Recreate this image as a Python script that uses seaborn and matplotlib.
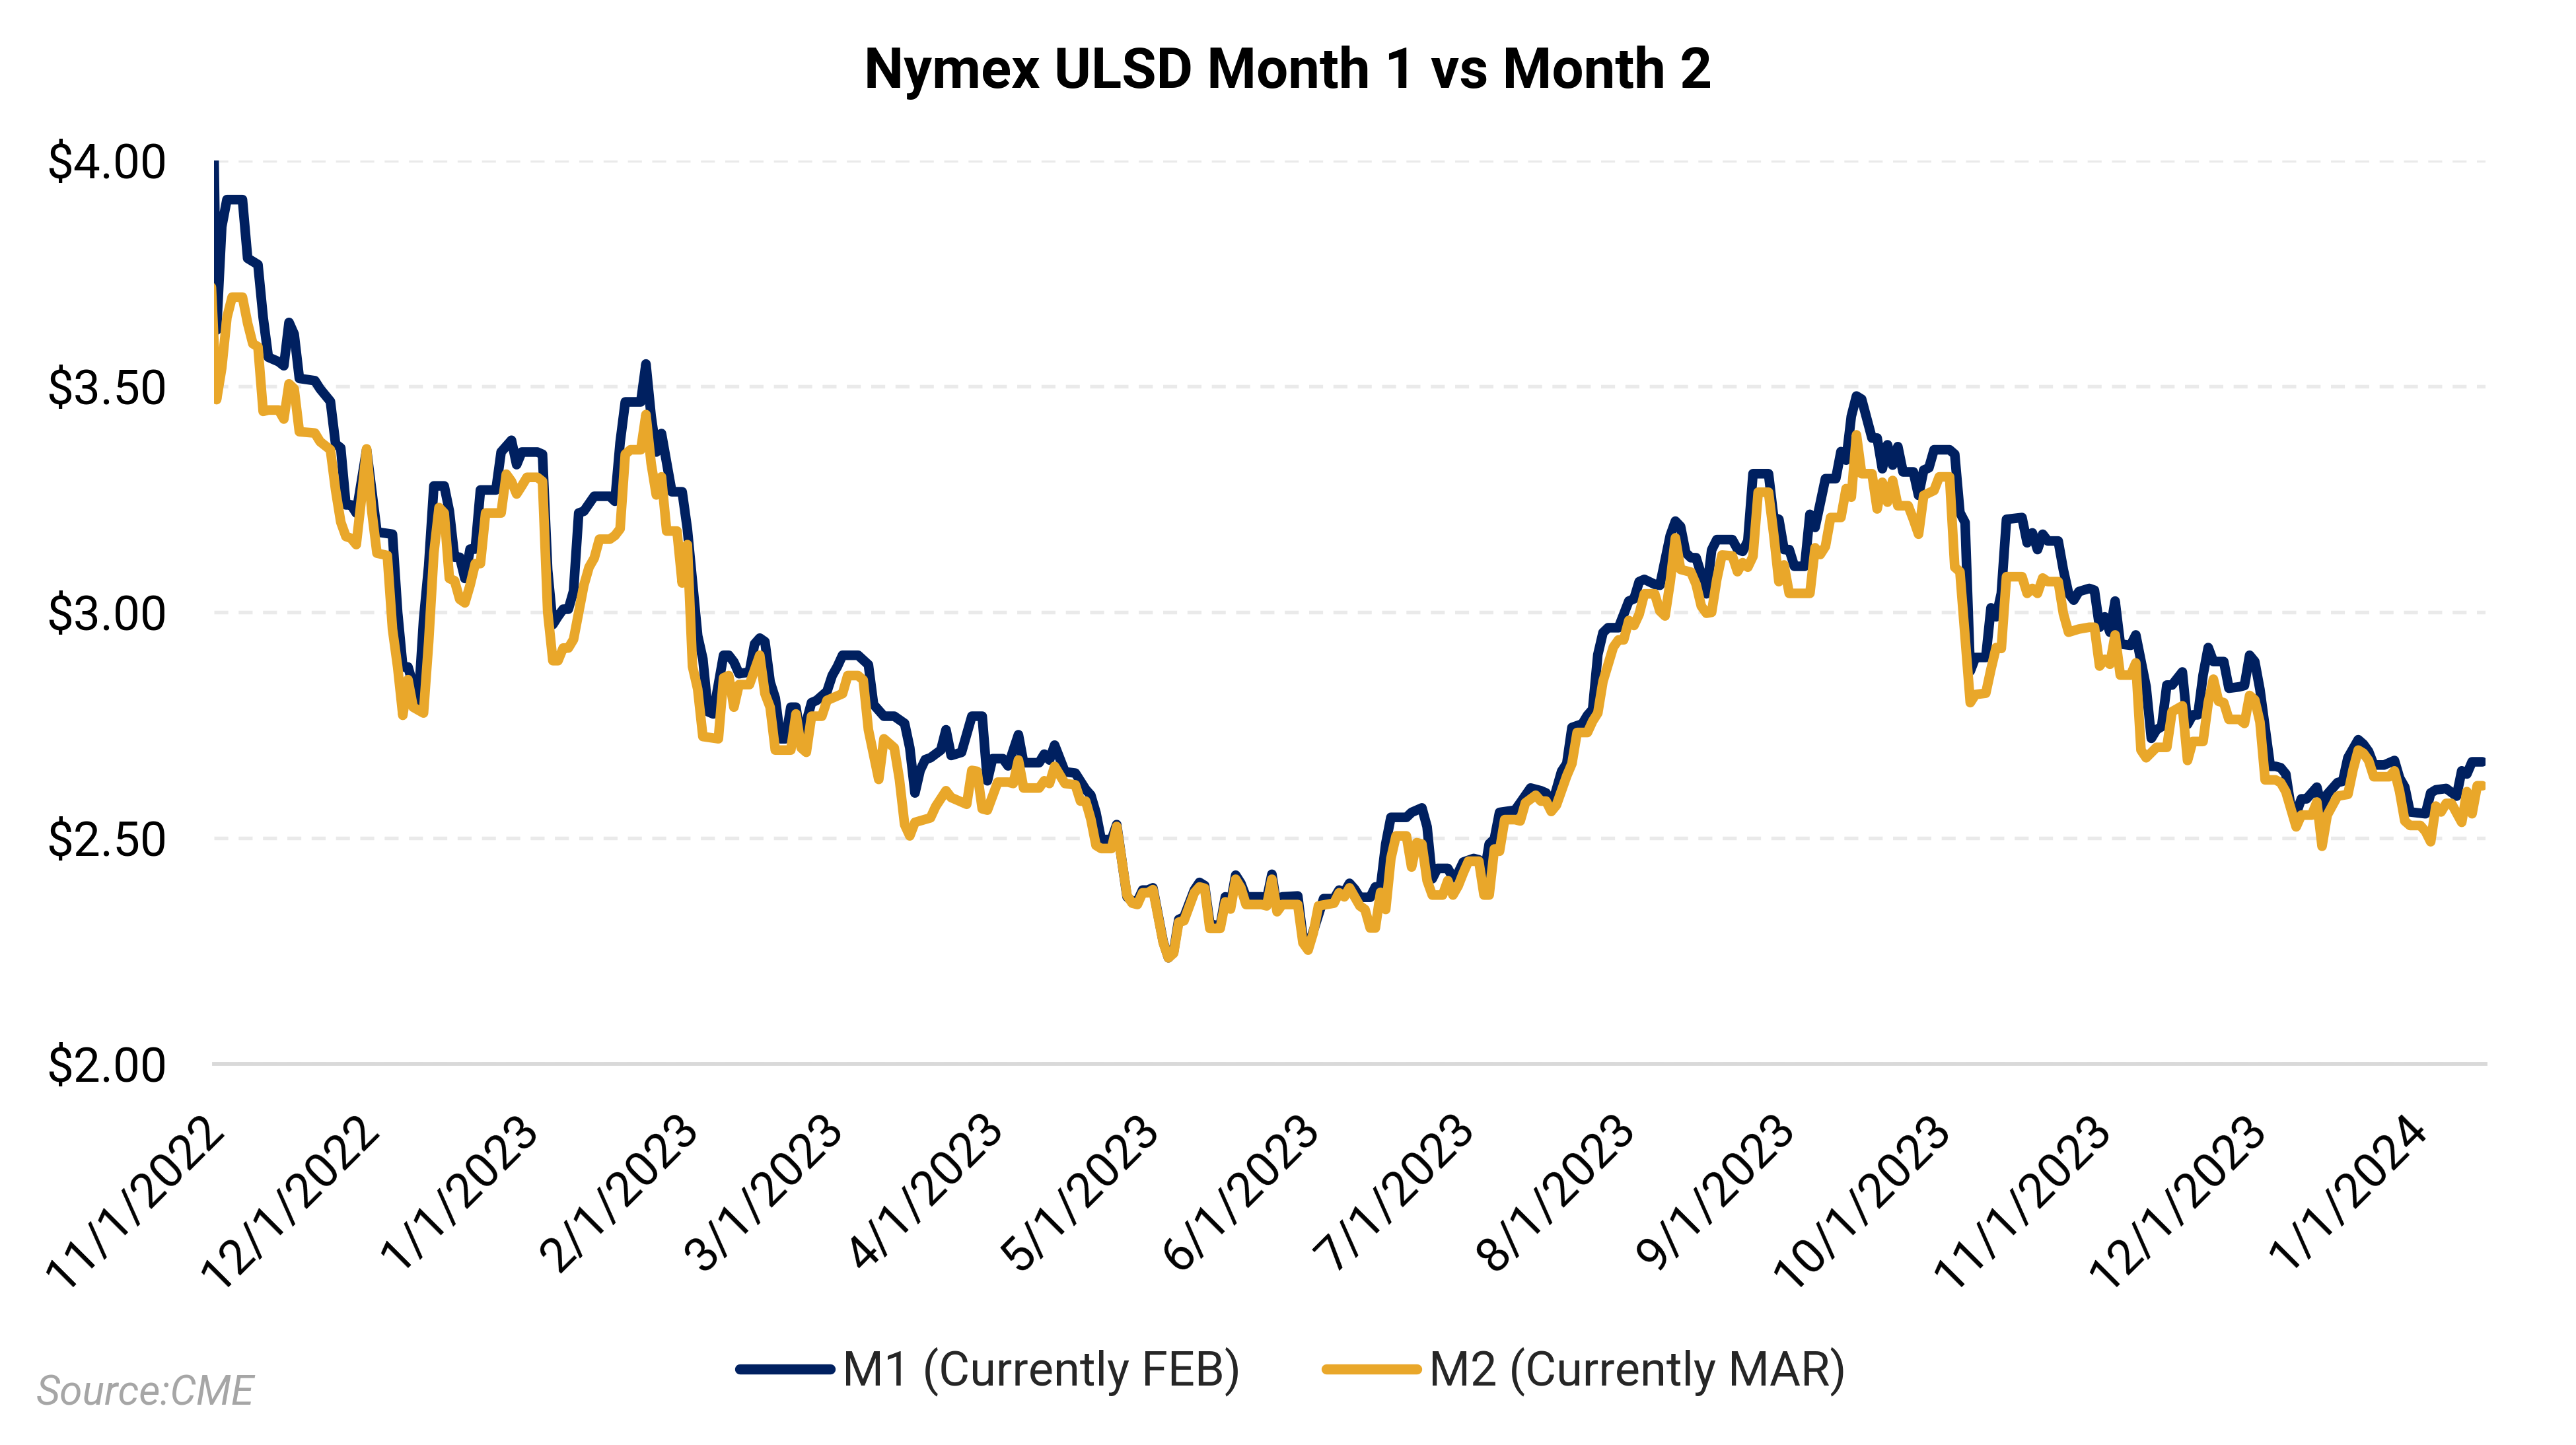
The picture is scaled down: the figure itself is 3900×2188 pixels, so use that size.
import matplotlib
matplotlib.use("Agg")
import matplotlib.pyplot as plt
import pandas as pd
import seaborn as sns
from matplotlib.lines import Line2D

# ---------------- data ----------------
start_date = "2022-11-01"

# day offsets from start_date and settle prices, M1 (front month)
m1_days = [-1, 0, 1, 2, 5, 6, 8, 9, 10, 12, 13, 14, 15, 16, 19, 20, 22, 23, 24, 25,
           26, 27, 29, 31, 34, 35, 36, 37, 39, 40, 41, 42, 44, 45, 46, 47, 48, 49, 50, 51,
           54, 55, 57, 58, 59, 62, 63, 64, 65, 66, 67, 68, 69, 70, 71, 73, 76, 77, 78, 79,
           82, 83, 84, 85, 86, 88, 90, 91, 93, 94, 95, 96, 98, 99, 100, 101, 103, 104, 105, 106,
           107, 108, 109, 110, 111, 112, 113, 115, 116, 118, 119, 120, 121, 124, 126, 127, 129, 131, 133, 134,
           135, 136, 137, 138, 140, 141, 142, 144, 146, 148, 149, 150, 152, 153, 155, 156, 159, 160, 161, 162,
           164, 166, 168, 169, 170, 171, 173, 174, 176, 177, 178, 179, 180, 181, 183, 184, 185, 186, 187, 189,
           190, 191, 192, 194, 195, 196, 197, 198, 199, 202, 203, 204, 205, 206, 209, 210, 211, 213, 214, 216,
           217, 218, 219, 220, 221, 223, 224, 225, 226, 227, 230, 231, 233, 234, 235, 236, 238, 239, 240, 241,
           243, 244, 245, 246, 247, 248, 251, 252, 254, 256, 257, 258, 260, 261, 262, 264, 265, 266, 267, 268,
           269, 271, 273, 274, 275, 276, 278, 279, 281, 282, 283, 284, 285, 286, 287, 288, 289, 290, 293, 294,
           295, 296, 297, 300, 301, 302, 303, 304, 305, 307, 308, 309, 311, 313, 314, 315, 316, 317, 318, 320,
           321, 322, 323, 324, 325, 326, 328, 329, 330, 331, 332, 335, 336, 337, 338, 339, 340, 342, 343, 344,
           345, 346, 349, 350, 351, 352, 353, 354, 356, 357, 358, 359, 360, 362, 363, 364, 365, 366, 367, 368,
           370, 371, 373, 374, 375, 376, 377, 378, 380, 381, 382, 383, 384, 385, 386, 388, 389, 391, 392, 393,
           394, 395, 397, 398, 399, 400, 401, 402, 403, 404, 406, 407, 408, 410, 411, 412, 414, 415, 416, 417,
           419, 421, 422, 423, 424, 427, 428, 429, 431, 433, 434, 435, 436, 438]
m1_price = [4.40, 3.625, 3.854, 3.914, 3.914, 3.784, 3.77, 3.653, 3.565, 3.555, 3.546, 3.642, 3.616, 3.518, 3.513, 3.495, 3.467, 3.373, 3.364, 3.238,
            3.238, 3.22, 3.36, 3.178, 3.173, 3.0, 2.879, 2.879, 2.80, 2.982, 3.103, 3.28, 3.28, 3.224, 3.122, 3.122, 3.075, 3.14, 3.14, 3.271,
            3.271, 3.355, 3.381, 3.327, 3.355, 3.355, 3.35, 3.094, 2.973, 2.991, 3.007, 3.007, 3.047, 3.22, 3.224, 3.257, 3.257, 3.246, 3.376, 3.466,
            3.466, 3.55, 3.435, 3.355, 3.396, 3.267, 3.267, 3.185, 2.948, 2.897, 2.78, 2.775, 2.905, 2.905, 2.89, 2.864, 2.868, 2.93, 2.943, 2.935,
            2.846, 2.81, 2.72, 2.72, 2.79, 2.79, 2.715, 2.80, 2.805, 2.825, 2.86, 2.88, 2.905, 2.905, 2.884, 2.796, 2.77, 2.77, 2.754, 2.70,
            2.60, 2.65, 2.674, 2.678, 2.695, 2.74, 2.683, 2.69, 2.77, 2.77, 2.627, 2.676, 2.676, 2.66, 2.729, 2.667, 2.667, 2.686, 2.673, 2.706,
            2.647, 2.644, 2.608, 2.595, 2.556, 2.497, 2.497, 2.53, 2.37, 2.36, 2.36, 2.385, 2.385, 2.39, 2.27, 2.235, 2.248, 2.32, 2.325, 2.385,
            2.402, 2.395, 2.31, 2.305, 2.37, 2.355, 2.418, 2.40, 2.37, 2.37, 2.365, 2.42, 2.345, 2.37, 2.372, 2.28, 2.258, 2.33, 2.366, 2.366,
            2.385, 2.38, 2.40, 2.387, 2.369, 2.369, 2.392, 2.392, 2.487, 2.546, 2.546, 2.557, 2.567, 2.525, 2.41, 2.433, 2.433, 2.412, 2.423, 2.447,
            2.455, 2.452, 2.417, 2.487, 2.498, 2.557, 2.562, 2.578, 2.611, 2.605, 2.60, 2.568, 2.648, 2.665, 2.745, 2.753, 2.772, 2.785, 2.906, 2.955,
            2.966, 2.966, 3.025, 3.03, 3.068, 3.073, 3.062, 3.06, 3.17, 3.202, 3.19, 3.132, 3.121, 3.121, 3.084, 3.041, 3.138, 3.161, 3.161, 3.14,
            3.135, 3.158, 3.307, 3.307, 3.21, 3.206, 3.139, 3.139, 3.102, 3.102, 3.217, 3.188, 3.296, 3.296, 3.356, 3.337, 3.434, 3.479, 3.472, 3.386,
            3.386, 3.318, 3.371, 3.326, 3.367, 3.311, 3.311, 3.259, 3.315, 3.32, 3.36, 3.36, 3.35, 3.221, 3.199, 2.87, 2.90, 2.90, 3.01, 2.99,
            3.042, 3.206, 3.21, 3.154, 3.176, 3.139, 3.173, 3.158, 3.158, 3.094, 3.042, 3.027, 3.046, 3.053, 3.049, 2.967, 2.99, 2.956, 3.025, 2.93,
            2.927, 2.95, 2.835, 2.721, 2.74, 2.747, 2.839, 2.839, 2.868, 2.752, 2.773, 2.773, 2.861, 2.922, 2.891, 2.891, 2.832, 2.835, 2.838, 2.905,
            2.891, 2.829, 2.659, 2.659, 2.656, 2.642, 2.567, 2.554, 2.587, 2.587, 2.613, 2.564, 2.597, 2.623, 2.626, 2.678, 2.718, 2.708, 2.692, 2.662,
            2.662, 2.672, 2.633, 2.613, 2.558, 2.554, 2.60, 2.607, 2.61, 2.593, 2.649, 2.642, 2.669, 2.669]

# M2 (second month)
m2_days = [-1, 0, 1, 2, 3, 5, 6, 7, 8, 9, 10, 12, 13, 14, 15, 16, 19, 20, 22, 23,
           24, 25, 26, 27, 28, 29, 30, 31, 33, 34, 35, 36, 37, 38, 40, 41, 42, 43, 44, 45,
           46, 47, 48, 49, 50, 51, 52, 55, 56, 57, 58, 59, 60, 62, 63, 64, 65, 66, 67, 68,
           69, 70, 71, 72, 73, 74, 76, 77, 78, 79, 80, 82, 83, 84, 85, 86, 87, 89, 90, 91,
           92, 93, 94, 97, 98, 99, 100, 101, 103, 105, 106, 107, 108, 111, 112, 113, 114, 115, 117, 118,
           121, 122, 124, 125, 126, 128, 129, 131, 132, 133, 134, 135, 138, 139, 141, 142, 144, 145, 146, 147,
           148, 149, 151, 153, 154, 155, 156, 159, 160, 161, 162, 164, 166, 167, 168, 169, 170, 171, 173, 174,
           176, 177, 178, 179, 180, 181, 183, 184, 185, 186, 187, 189, 190, 191, 192, 194, 195, 196, 197, 198,
           199, 202, 203, 204, 205, 206, 209, 210, 211, 212, 213, 216, 217, 218, 219, 220, 221, 222, 223, 224,
           225, 226, 227, 228, 230, 231, 232, 233, 234, 235, 237, 238, 239, 240, 241, 242, 244, 245, 246, 247,
           248, 249, 251, 252, 253, 255, 256, 257, 258, 259, 261, 262, 263, 265, 266, 267, 268, 270, 271, 272,
           273, 274, 275, 276, 278, 279, 280, 281, 282, 283, 285, 286, 287, 288, 289, 290, 291, 293, 294, 295,
           296, 297, 298, 300, 301, 302, 303, 304, 308, 309, 310, 311, 312, 314, 315, 316, 317, 318, 320, 321,
           322, 323, 324, 325, 327, 328, 329, 330, 332, 333, 335, 336, 337, 339, 340, 342, 343, 344, 345, 346,
           349, 350, 351, 352, 353, 354, 356, 357, 358, 360, 362, 363, 364, 365, 366, 367, 368, 370, 371, 372,
           373, 375, 377, 378, 380, 381, 382, 384, 385, 386, 387, 388, 389, 391, 392, 393, 394, 395, 396, 398,
           399, 400, 402, 403, 405, 406, 407, 408, 410, 412, 413, 414, 415, 416, 417, 420, 421, 422, 423, 424,
           426, 427, 428, 429, 430, 431, 432, 434, 435, 436, 437, 438]
m2_price = [3.72, 3.471, 3.541, 3.653, 3.698, 3.698, 3.64, 3.595, 3.588, 3.445, 3.448, 3.448, 3.428, 3.506, 3.495, 3.40, 3.397, 3.378, 3.36, 3.271,
            3.20, 3.168, 3.164, 3.15, 3.252, 3.362, 3.224, 3.131, 3.126, 2.963, 2.879, 2.772, 2.851, 2.79, 2.777, 2.935, 3.131, 3.232, 3.22, 3.075,
            3.07, 3.029, 3.021, 3.06, 3.108, 3.108, 3.22, 3.22, 3.306, 3.29, 3.262, 3.28, 3.299, 3.299, 3.29, 3.001, 2.893, 2.893, 2.921, 2.921,
            2.94, 3.0, 3.06, 3.10, 3.12, 3.162, 3.162, 3.17, 3.185, 3.35, 3.36, 3.36, 3.438, 3.33, 3.26, 3.30, 3.18, 3.18, 3.065, 3.15,
            2.88, 2.83, 2.725, 2.72, 2.855, 2.86, 2.79, 2.84, 2.84, 2.905, 2.82, 2.79, 2.695, 2.695, 2.775, 2.70, 2.69, 2.77, 2.77, 2.805,
            2.82, 2.86, 2.86, 2.85, 2.74, 2.63, 2.72, 2.70, 2.63, 2.53, 2.505, 2.535, 2.545, 2.57, 2.605, 2.59, 2.58, 2.575, 2.65, 2.648,
            2.565, 2.562, 2.624, 2.624, 2.621, 2.673, 2.611, 2.611, 2.627, 2.621, 2.659, 2.621, 2.618, 2.582, 2.582, 2.542, 2.484, 2.477, 2.477, 2.526,
            2.373, 2.356, 2.353, 2.379, 2.379, 2.386, 2.268, 2.235, 2.245, 2.314, 2.317, 2.379, 2.392, 2.389, 2.30, 2.30, 2.359, 2.343, 2.409, 2.39,
            2.353, 2.353, 2.35, 2.409, 2.337, 2.353, 2.353, 2.268, 2.252, 2.29, 2.35, 2.356, 2.379, 2.37, 2.39, 2.37, 2.35, 2.342, 2.301, 2.301,
            2.38, 2.342, 2.455, 2.505, 2.505, 2.436, 2.49, 2.487, 2.406, 2.374, 2.374, 2.406, 2.374, 2.394, 2.423, 2.449, 2.449, 2.374, 2.374, 2.476,
            2.471, 2.541, 2.541, 2.538, 2.578, 2.595, 2.582, 2.582, 2.559, 2.573, 2.638, 2.665, 2.734, 2.734, 2.759, 2.777, 2.847, 2.923, 2.939, 2.939,
            2.982, 2.971, 2.996, 3.041, 3.041, 3.003, 2.992, 3.068, 3.165, 3.095, 3.089, 3.062, 3.014, 2.998, 3.0, 3.073, 3.127, 3.125, 3.09, 3.11,
            3.10, 3.124, 3.266, 3.266, 3.173, 3.068, 3.105, 3.042, 3.042, 3.143, 3.128, 3.146, 3.21, 3.21, 3.274, 3.255, 3.393, 3.307, 3.307, 3.229,
            3.288, 3.244, 3.292, 3.236, 3.236, 3.206, 3.173, 3.259, 3.27, 3.30, 3.30, 3.10, 3.09, 2.80, 2.818, 2.821, 2.874, 2.922, 2.92, 3.079,
            3.079, 3.042, 3.053, 3.042, 3.076, 3.068, 3.068, 2.997, 2.956, 2.963, 2.967, 2.967, 2.881, 2.896, 2.885, 2.95, 2.861, 2.861, 2.888, 2.695,
            2.678, 2.701, 2.701, 2.78, 2.793, 2.672, 2.714, 2.714, 2.80, 2.852, 2.803, 2.80, 2.763, 2.763, 2.754, 2.816, 2.806, 2.757, 2.629, 2.629,
            2.623, 2.603, 2.525, 2.551, 2.551, 2.58, 2.482, 2.551, 2.593, 2.597, 2.652, 2.695, 2.688, 2.672, 2.636, 2.636, 2.649, 2.603, 2.538, 2.528,
            2.528, 2.515, 2.492, 2.571, 2.558, 2.577, 2.577, 2.535, 2.603, 2.554, 2.616, 2.616]

series_names = ["M1 (Currently FEB)", "M2 (Currently MAR)"]
series_colors = ["#002060", "#E9A72A"]
tick_dates = ["2022-11-01", "2022-12-01", "2023-01-01", "2023-02-01", "2023-03-01",
              "2023-04-01", "2023-05-01", "2023-06-01", "2023-07-01", "2023-08-01",
              "2023-09-01", "2023-10-01", "2023-11-01", "2023-12-01", "2024-01-01"]
y_ticks = [2.00, 2.50, 3.00, 3.50, 4.00]
title_text = "Nymex ULSD Month 1 vs Month 2"
source_text = "Source:CME"

# ---------------- build frame ----------------
base = pd.Timestamp(start_date)
df = pd.concat([
    pd.DataFrame({"date": base + pd.to_timedelta(m1_days, unit="D"),
                  "price": m1_price, "series": series_names[0]}),
    pd.DataFrame({"date": base + pd.to_timedelta(m2_days, unit="D"),
                  "price": m2_price, "series": series_names[1]}),
], ignore_index=True)

sns.set_theme(style="white")
plt.rcParams["font.family"] = ["Roboto", "DejaVu Sans"]

W, H = 3900, 2188
fig = plt.figure(figsize=(W / 300, H / 300), dpi=300)
left, right, top, bottom = 324, 3763, 243.4, 1611
ax = fig.add_axes([left / W, 1 - bottom / H, (right - left) / W, (bottom - top) / H])

palette = dict(zip(series_names, series_colors))
sns.lineplot(data=df, x="date", y="price", hue="series", hue_order=series_names,
             palette=palette, estimator=None, sort=False, linewidth=3.5,
             ax=ax, legend=False, solid_joinstyle="round", solid_capstyle="round")

ax.set_xlim(base - pd.Timedelta(hours=12), base + pd.Timedelta(days=438.6))
ax.set_ylim(2.0, 4.0)

tks = pd.to_datetime(tick_dates)
ax.set_xticks(tks)
ax.set_xticklabels([f"{d.month}/{d.day}/{d.year}" for d in tks])
ax.set_yticks(y_ticks)
ax.set_yticklabels([f"${v:.2f}" for v in y_ticks])
ax.set_xlabel("")
ax.set_ylabel("")

ax.tick_params(axis="both", length=0, labelsize=17.5, labelcolor="black")
ax.tick_params(axis="y", pad=17)
ax.tick_params(axis="x", pad=21)
for lab in ax.get_xticklabels():
    lab.set_rotation(45)
    lab.set_ha("right")
    lab.set_va("center")
    lab.set_rotation_mode("anchor")

ax.yaxis.grid(True, color="#eaeaea", linewidth=1.3, linestyle=(0, (3.9, 2.9)))
ax.xaxis.grid(False)
ax.set_axisbelow(True)
for s in ["top", "right", "left"]:
    ax.spines[s].set_visible(False)
ax.spines["bottom"].set_color("#d9d9d9")
ax.spines["bottom"].set_linewidth(1.4)
ax.set_facecolor("white")
fig.patch.set_facecolor("white")

fig.text(0.5, 1 - 133 / H, title_text, ha="center", va="baseline",
         fontsize=20.5, fontweight="bold", color="black")

handles = [Line2D([0], [0], color=c, lw=3.7, solid_capstyle="round") for c in series_colors]
fig.legend(handles, series_names, loc="center", bbox_to_anchor=(0.502, 1 - 2077 / H),
           ncol=2, frameon=False, fontsize=17.3, handlelength=1.9,
           handletextpad=0.25, columnspacing=1.8)

fig.text(55 / W, 1 - 2127 / H, source_text, ha="left", va="baseline",
         fontsize=15, style="italic", color="#a6a6a6")

fig.savefig("out.png", dpi=300, facecolor="white")
